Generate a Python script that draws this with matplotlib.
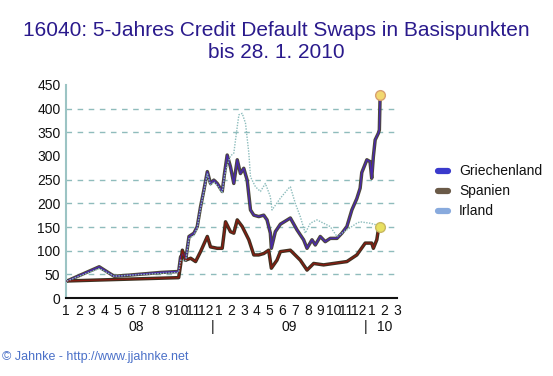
import numpy as np
import matplotlib
matplotlib.use("Agg")
import matplotlib.pyplot as plt
from matplotlib.lines import Line2D

plt.rcParams['font.family'] = ['Liberation Sans', 'DejaVu Sans']

# x = months since 1 Jan 2008
gr_x = [0.08, 2.61, 3.78, 4.83, 7.44, 8.85, 9.00, 9.24, 9.40, 9.66, 10.05, 10.31, 10.57, 10.83,
        11.10, 11.35, 11.61, 11.88, 12.27, 12.45, 12.66, 12.92, 13.18, 13.45, 13.70, 13.96, 14.23,
        14.49, 14.75, 15.14, 15.53, 15.79, 16.05, 16.13, 16.44, 16.84, 17.62, 18.14, 18.66, 18.93,
        19.32, 19.58, 19.97, 20.36, 20.75, 21.28, 21.67, 22.06, 22.45, 22.84, 23.10, 23.23, 23.63,
        23.88, 24.01, 24.14, 24.28, 24.53, 24.61, 24.67]
gr_y = [36, 66, 46, 48, 54, 56, 87, 95, 80, 130, 137, 151, 193, 228,
        267, 242, 249, 242, 225, 263, 302, 277, 242, 292, 263, 274, 249,
        186, 175, 172, 175, 165, 137, 105, 140, 156, 169, 144, 123, 105,
        123, 112, 130, 119, 126, 126, 137, 151, 186, 210, 232, 265, 292,
        288, 253, 299, 334, 348, 355, 429]

es_x = [0.08, 3.78, 8.85, 9.00, 9.14, 9.40, 9.79, 10.18, 10.57, 11.10, 11.35, 11.88, 12.27,
        12.53, 12.92, 13.18, 13.45, 13.84, 14.36, 14.75, 15.14, 15.53, 15.92, 16.13, 16.57,
        16.84, 17.62, 18.14, 18.40, 18.93, 19.45, 20.23, 21.01, 22.06, 22.84, 23.50, 24.01,
        24.14, 24.41, 24.53, 24.67]
es_y = [36, 39, 43, 70, 101, 80, 84, 77, 98, 130, 108, 105, 105,
        161, 140, 137, 165, 151, 123, 91, 91, 94, 101, 63, 80,
        98, 101, 87, 80, 59, 73, 70, 73, 77, 91, 116, 116,
        105, 123, 144, 150]

ie_x = [0.08, 2.61, 3.78, 7.44, 8.85, 9.00, 9.40, 9.66, 10.05, 10.31, 10.57, 10.83, 11.10,
        11.35, 11.61, 11.88, 12.27, 12.45, 12.66, 12.92, 13.18, 13.45, 13.58, 13.84, 14.10,
        14.36, 14.49, 14.88, 15.27, 15.66, 16.05, 16.18, 16.84, 17.49, 17.62, 18.01, 18.40,
        18.79, 19.19, 19.71, 20.23, 20.75, 21.28, 22.06, 22.84, 23.10, 23.88, 24.44, 24.67]
ie_y = [36, 62, 46, 52, 54, 80, 78, 125, 132, 148, 190, 225, 262,
        238, 245, 238, 222, 258, 280, 300, 306, 362, 387, 390, 369,
        306, 256, 235, 225, 242, 214, 186, 211, 232, 235, 200, 172,
        137, 158, 165, 158, 151, 130, 144, 158, 161, 158, 154, 150]

month_labels = [str(m) for m in range(1, 13)] * 2 + ['1', '2', '3']
year_labels = ['08', '09', '10']
year_pos = [5.5, 17.5, 25.0]
year_sep = [11.5, 23.55]
grid_levels = [50, 100, 150, 200, 250, 350, 400]

fig = plt.figure(figsize=(5.53, 3.76), dpi=100)
ax = fig.add_axes([0.1193, 0.2074, 0.5987, 0.5666])

for g in grid_levels:
    ax.axhline(g, color='#8fbcbc', lw=1, ls=(0, (4, 4)), zorder=0)

# thick dark body with coloured core, like the original's jagged lines
ax.plot(gr_x, gr_y, color='#4e4a36', lw=2.5, zorder=2)
ax.plot(gr_x, gr_y, color='#4a2aa8', lw=1.1, zorder=3)
ax.plot(es_x, es_y, color='#3e3222', lw=2.5, zorder=2)
ax.plot(es_x, es_y, color='#8a1a10', lw=0.9, zorder=3)
ax.plot(ie_x, ie_y, color='#8cbcbc', lw=1.0, ls=(0, (1, 1)), zorder=4)

ax.plot([gr_x[-1]], [gr_y[-1]], 'o', ms=7, mfc='#f2d870', mec='#d8a070', mew=1, zorder=5)
ax.plot([es_x[-1]], [es_y[-1]], 'o', ms=7, mfc='#e8e060', mec='#c8b860', mew=1, zorder=5)

ax.set_xlim(0, 26)
ax.set_ylim(0, 450)
ax.set_yticks(range(0, 451, 50))
ax.set_xticks(range(27))
ax.set_xticklabels(month_labels)
ax.tick_params(length=0, labelsize=10, colors='#111111')
ax.tick_params(axis='x', pad=4)
ax.tick_params(axis='y', pad=4)
for s in ['top', 'right']:
    ax.spines[s].set_visible(False)
ax.spines['left'].set_color('#9cc4c4')
ax.spines['left'].set_linewidth(1.5)
ax.spines['bottom'].set_color('#111111')
ax.spines['bottom'].set_linewidth(1.5)

tr = ax.get_xaxis_transform()
for p, lab in zip(year_pos, year_labels):
    ax.text(p, -0.135, lab, transform=tr, ha='center', va='center', fontsize=10, color='#111111')
for p in year_sep:
    ax.text(p, -0.135, '|', transform=tr, ha='center', va='center', fontsize=10, color='#111111')

fig.text(0.5, 1 - 30 / 376, '16040: 5-Jahres Credit Default Swaps in Basispunkten', ha='center',
         va='center', fontsize=15, color='#2a1a8c')
fig.text(0.5, 1 - 52 / 376, 'bis 28. 1. 2010', ha='center', va='center', fontsize=15, color='#2a1a8c')

leg = [('Griechenland', '#3a3acc'), ('Spanien', '#6a5a48'), ('Irland', '#88aadd')]
for i, (name, col) in enumerate(leg):
    yy = 1 - (171 + 20 * i) / 376
    fig.add_artist(Line2D([438 / 553, 448 / 553], [yy, yy], color=col, lw=4.5, solid_capstyle='round'))
    fig.text(459 / 553, yy, name, ha='left', va='center', fontsize=10, color='#111111')

fig.text(2 / 553, 1 - 357 / 376, '\u00a9 Jahnke - http://www.jjahnke.net', ha='left', va='center',
         fontsize=9, color='#4a70c8')

fig.savefig('out.png', dpi=100)
